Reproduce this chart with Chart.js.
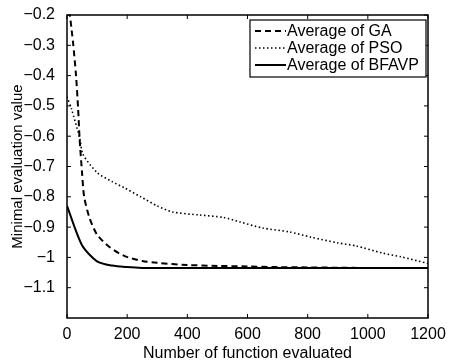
<!DOCTYPE html>
<html>
<head>
<meta charset="utf-8">
<script src="https://cdn.jsdelivr.net/npm/chart.js@4/dist/chart.umd.min.js"></script>
<style>
  html, body { margin: 0; padding: 0; background: #fff; }
  #wrap { width: 449px; height: 361px; }
</style>
</head>
<body>
<div id="wrap"><canvas id="chart"></canvas></div>
<script>
// values
const gaX = [0, 20, 30, 37, 42, 50, 57, 75, 100, 140, 190, 250, 300, 400, 500, 600, 700, 800, 900, 1000, 1100, 1200];
const gaY = [-0.12, -0.29, -0.40, -0.51, -0.61, -0.72, -0.80, -0.87, -0.925, -0.965, -0.995, -1.012, -1.018, -1.025, -1.028, -1.030, -1.032, -1.033, -1.034, -1.035, -1.035, -1.035];

const psoX = [0, 15, 43, 53, 100, 150, 190, 245, 300, 350, 440, 520, 575, 650, 740, 810, 900, 960, 1050, 1110, 1200];
const psoY = [-0.47, -0.51, -0.61, -0.66, -0.72, -0.75, -0.77, -0.80, -0.83, -0.85, -0.86, -0.868, -0.883, -0.903, -0.916, -0.933, -0.952, -0.962, -0.986, -0.998, -1.02];

const bfX = [0, 50, 100, 150, 200, 250, 300, 400, 600, 800, 1000, 1200];
const bfY = [-0.83, -0.96, -1.013, -1.027, -1.032, -1.035, -1.035, -1.035, -1.035, -1.035, -1.035, -1.035];

const seriesNames = ['Average of GA', 'Average of PSO', 'Average of BFAVP'];
const xTicks = [0, 200, 400, 600, 800, 1000, 1200];
const yTicks = [-0.2, -0.3, -0.4, -0.5, -0.6, -0.7, -0.8, -0.9, -1, -1.1];

const FONT = '"Liberation Sans", Arial, Helvetica, sans-serif';
const dashes = [[6, 4], [1.5, 2.5], []];
const widths = [2, 1.6, 2];

const pts = (xs, ys) => xs.map((x, i) => ({ x: x, y: ys[i] }));

// matlab style box with inward ticks
const boxPlugin = {
  id: 'box',
  afterDatasetsDraw(chart) {
    const { ctx, chartArea: a, scales } = chart;
    ctx.save();
    ctx.strokeStyle = '#000';
    ctx.lineWidth = 1.5;
    ctx.strokeRect(a.left, a.top, a.right - a.left, a.bottom - a.top);
    ctx.lineWidth = 1;
    ctx.beginPath();
    xTicks.forEach(v => {
      const x = scales.x.getPixelForValue(v);
      ctx.moveTo(x, a.bottom); ctx.lineTo(x, a.bottom - 4);
      ctx.moveTo(x, a.top); ctx.lineTo(x, a.top + 4);
    });
    yTicks.forEach(v => {
      const y = scales.y.getPixelForValue(v);
      ctx.moveTo(a.left, y); ctx.lineTo(a.left + 4, y);
      ctx.moveTo(a.right, y); ctx.lineTo(a.right - 4, y);
    });
    ctx.stroke();
    ctx.restore();
  }
};

// legend box inside the plot, top right
const legendPlugin = {
  id: 'boxLegend',
  afterDraw(chart) {
    const { ctx, chartArea: a } = chart;
    const right = a.right - 2, left = right - 176, top = a.top + 5, rowH = 17;
    ctx.save();
    ctx.fillStyle = '#fff';
    ctx.fillRect(left, top, right - left, rowH * 3 + 6);
    ctx.strokeStyle = '#000';
    ctx.lineWidth = 1.2;
    ctx.strokeRect(left, top, right - left, rowH * 3 + 6);
    ctx.font = '16px ' + FONT;
    ctx.textBaseline = 'middle';
    ctx.fillStyle = '#000';
    seriesNames.forEach((name, i) => {
      const y = top + 11 + i * rowH;
      ctx.setLineDash(dashes[i]);
      ctx.lineWidth = widths[i];
      ctx.beginPath();
      ctx.moveTo(left + 5, y);
      ctx.lineTo(left + 36, y);
      ctx.stroke();
      ctx.setLineDash([]);
      ctx.fillText(name, left + 37, y + 1);
    });
    ctx.restore();
  }
};

const fmt = v => String(Math.round(v * 10) / 10).replace('-', '\u2212');

new Chart(document.getElementById('chart'), {
  type: 'line',
  data: {
    datasets: [
      { label: seriesNames[0], data: pts(gaX, gaY) },
      { label: seriesNames[1], data: pts(psoX, psoY) },
      { label: seriesNames[2], data: pts(bfX, bfY) }
    ].map((d, i) => Object.assign(d, {
      borderColor: '#000',
      borderWidth: widths[i],
      borderDash: dashes[i],
      pointRadius: 0,
      tension: 0.25,
      fill: false
    }))
  },
  options: {
    responsive: true,
    maintainAspectRatio: false,
    animation: false,
    layout: { padding: { top: 15, right: 21, left: 0, bottom: 0 } },
    plugins: { legend: { display: false }, tooltip: { enabled: false } },
    scales: {
      x: {
        type: 'linear',
        min: 0,
        max: 1200,
        afterFit: s => { s.height = 43; },
        afterBuildTicks: s => { s.ticks = xTicks.map(v => ({ value: v })); },
        grid: { display: false },
        border: { display: false },
        ticks: { color: '#000', padding: -1, maxRotation: 0, font: { family: FONT, size: 16 }, callback: v => fmt(v) },
        title: { display: true, text: 'Number of function evaluated', color: '#000', padding: { top: 0, bottom: -2 }, font: { family: FONT, size: 16 } }
      },
      y: {
        min: -1.2,
        max: -0.2,
        afterFit: s => { s.width = 67; },
        afterBuildTicks: s => { s.ticks = yTicks.map(v => ({ value: v })); },
        grid: { display: false },
        border: { display: false },
        ticks: { color: '#000', padding: 4, font: { family: FONT, size: 16 }, callback: v => fmt(v) },
        title: { display: true, text: 'Minimal evaluation value', color: '#000', padding: { top: 9, bottom: 0 }, font: { family: FONT, size: 15 } }
      }
    }
  },
  plugins: [boxPlugin, legendPlugin]
});
</script>
</body>
</html>
